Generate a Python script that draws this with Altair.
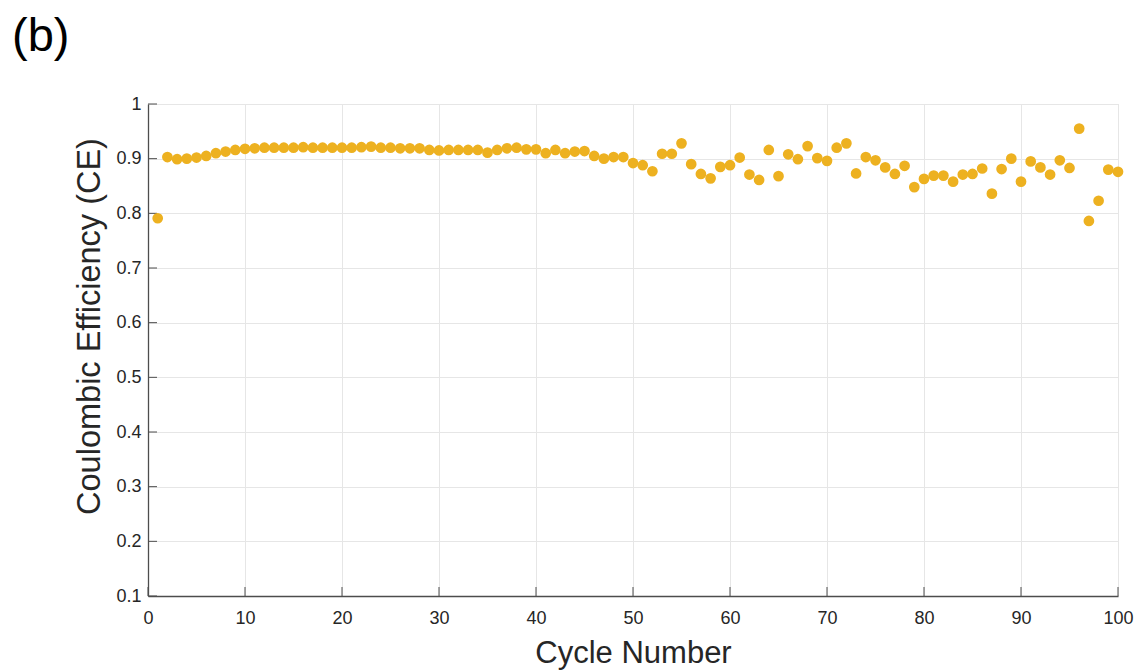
import altair as alt
import pandas as pd

cycles = list(range(1, 101))
ce = [
    0.791, 0.903, 0.899, 0.900, 0.902, 0.905, 0.910, 0.913, 0.916, 0.918,
    0.919, 0.920, 0.920, 0.920, 0.920, 0.921, 0.920, 0.920, 0.920, 0.920,
    0.920, 0.921, 0.922, 0.920, 0.920, 0.919, 0.919, 0.919, 0.916, 0.915,
    0.916, 0.916, 0.916, 0.916, 0.911, 0.916, 0.919, 0.920, 0.917, 0.917,
    0.910, 0.916, 0.910, 0.913, 0.914, 0.905, 0.900, 0.903, 0.903, 0.892,
    0.888, 0.877, 0.909, 0.909, 0.928, 0.890, 0.872, 0.864, 0.885, 0.888,
    0.902, 0.871, 0.861, 0.916, 0.868, 0.908, 0.899, 0.923, 0.901, 0.896,
    0.920, 0.928, 0.873, 0.903, 0.897, 0.884, 0.872, 0.887, 0.848, 0.863,
    0.869, 0.869, 0.858, 0.871, 0.872, 0.882, 0.836, 0.881, 0.900, 0.858,
    0.895, 0.884, 0.871, 0.897, 0.883, 0.955, 0.786, 0.823, 0.880, 0.876,
]
x_ticks = [0, 10, 20, 30, 40, 50, 60, 70, 80, 90, 100]
y_ticks = [0.1, 0.2, 0.3, 0.4, 0.5, 0.6, 0.7, 0.8, 0.9, 1.0]

df = pd.DataFrame({"cycle": cycles, "ce": ce})
xt = pd.DataFrame({"t": x_ticks})
yt = pd.DataFrame({"t": y_ticks})

W, H = 970, 492
FONT = "Liberation Sans"
AXC = "#262626"

xscale = alt.Scale(domain=[0, 100], nice=False, zero=False)
yscale = alt.Scale(domain=[0.1, 1.0], nice=False, zero=False)

points = alt.Chart(df).mark_circle(size=115, color="#EDB120", opacity=1).encode(
    x=alt.X("cycle:Q", scale=xscale, title="Cycle Number",
            axis=alt.Axis(values=x_ticks, format="d", grid=True, gridColor="#E6E6E6",
                          domainColor="#4D4D4D", domainWidth=1.3, ticks=False,
                          labelFlush=False, labelOverlap=False,
                          labelFont=FONT, labelFontSize=18, labelColor=AXC, labelPadding=13,
                          titleFont=FONT, titleFontSize=31, titleFontWeight="normal",
                          titleColor=AXC, titleBaseline="alphabetic", titleY=66)),
    y=alt.Y("ce:Q", scale=yscale, title="Coulombic Efficiency (CE)",
            axis=alt.Axis(values=y_ticks, format="~g", grid=True, gridColor="#E6E6E6",
                          domainColor="#4D4D4D", domainWidth=1.3, ticks=False,
                          labelFlush=False, labelOverlap=False,
                          labelFont=FONT, labelFontSize=18, labelColor=AXC, labelPadding=7,
                          titleFont=FONT, titleFontSize=32.5, titleFontWeight="normal",
                          titleColor=AXC, titleBaseline="alphabetic", titleAngle=270,
                          titleX=-49, titleY=222)),
)

xticks = alt.Chart(xt).mark_rule(color="#4D4D4D", strokeWidth=1).encode(
    x=alt.X("t:Q", scale=xscale), y=alt.value(H), y2=alt.value(H - 9)
)
yticks = alt.Chart(yt).mark_rule(color="#4D4D4D", strokeWidth=1).encode(
    y=alt.Y("t:Q", scale=yscale), x=alt.value(0), x2=alt.value(9)
)

chart = alt.layer(xticks, yticks, points).properties(
    width=W, height=H,
    padding={"left": 148, "top": 104, "right": 22, "bottom": 74},
    autosize=alt.AutoSizeParams(type="none"),
    title=alt.TitleParams("(b)", anchor="start", frame="group", fontSize=47,
                          font=FONT, fontWeight="normal", color="#000000",
                          dx=-136, offset=34),
).configure_view(stroke=None).configure(background="white")

chart.save("out.html", embed_options={"renderer": "svg", "actions": False})
